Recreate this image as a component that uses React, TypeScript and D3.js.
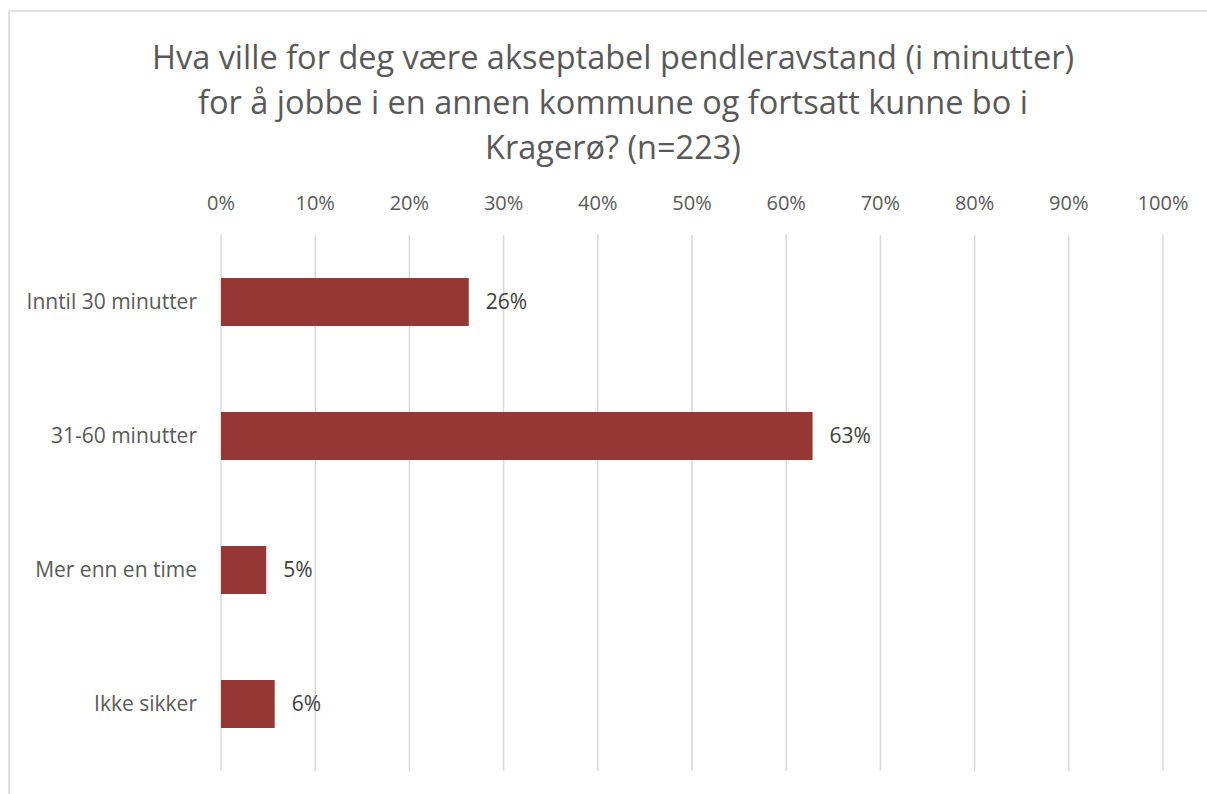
import React from "react";
import * as d3 from "d3";

const categories = ["Inntil 30 minutter", "31-60 minutter", "Mer enn en time", "Ikke sikker"];
const values = [0.263, 0.628, 0.048, 0.057];
const valueLabels = ["26%", "63%", "5%", "6%"];
const ticks = [0, 0.1, 0.2, 0.3, 0.4, 0.5, 0.6, 0.7, 0.8, 0.9, 1.0];
const titleLines = [
  "Hva ville for deg være akseptabel pendleravstand (i minutter)",
  "for å jobbe i en annen kommune og fortsatt kunne bo i",
  "Kragerø? (n=223)",
];

const W = 1207;
const H = 794;
const FONT = "'Open Sans', sans-serif";

export default function App() {
  const x = d3.scaleLinear().domain([0, 1]).range([221, 1163]);
  const y = d3.scaleBand<string>().domain(categories).range([235, 771]).paddingInner(0.642).paddingOuter(0.321);
  const fmt = d3.format(".0%");
  return (
    <svg width={W} height={H} style={{ position: "absolute", left: 0, top: 0, background: "#fff" }}>
      <rect x={0} y={0} width={W} height={H} fill="#fff" />
      <line x1={9} x2={W} y1={11} y2={11} stroke="#d9d9d9" strokeWidth={1.5} />
      <line x1={9} x2={9} y1={11} y2={H} stroke="#d9d9d9" strokeWidth={1.5} />
      {titleLines.map((t, i) => (
        <text key={i} x={613} y={69 + i * 45} textAnchor="middle" fontFamily={FONT} fontSize={32.5} fill="#595959">
          {t}
        </text>
      ))}
      {ticks.map((t) => (
        <g key={t}>
          <line x1={x(t)} x2={x(t)} y1={235} y2={771} stroke="#d9d9d9" strokeWidth={1.5} />
          <text x={x(t)} y={210} textAnchor="middle" fontFamily={FONT} fontSize={20} fill="#595959">
            {fmt(t)}
          </text>
        </g>
      ))}
      {categories.map((c, i) => {
        const yy = y(c)!;
        const bh = y.bandwidth();
        return (
          <g key={c}>
            <rect x={x(0)} y={yy} width={x(values[i]) - x(0)} height={bh} fill="#953735" />
            <text x={197} y={yy + bh / 2} dy="0.35em" textAnchor="end" fontFamily={FONT} fontSize={21} fill="#595959">
              {c}
            </text>
            <text x={x(values[i]) + 17} y={yy + bh / 2} dy="0.35em" fontFamily={FONT} fontSize={21} fill="#404040">
              {valueLabels[i]}
            </text>
          </g>
        );
      })}
    </svg>
  );
}
